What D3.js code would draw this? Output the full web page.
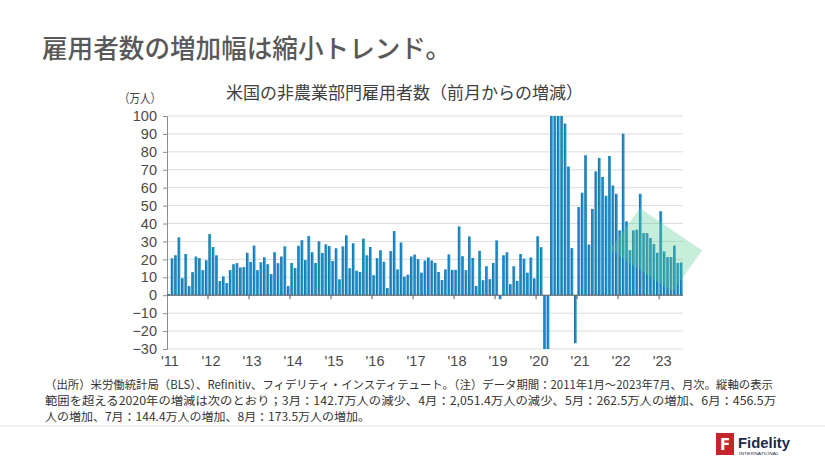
<!DOCTYPE html>
<html><head><meta charset="utf-8">
<script src="https://cdn.jsdelivr.net/npm/d3@7"></script>
<style>
html,body{margin:0;padding:0;background:#fff;}
svg{display:block;}
</style></head>
<body>
<svg id="chart" width="825" height="464"></svg>
<script>
// ---- data ----
const title = "雇用者数の増加幅は縮小トレンド。";
const subtitle = "米国の非農業部門雇用者数（前月からの増減）";
const unitLabel = "（万人）";
const yearLabels = ["'11","'12","'13","'14","'15","'16","'17","'18","'19","'20","'21","'22","'23"];
const yTicks = [-30,-20,-10,0,10,20,30,40,50,60,70,80,90,100];
const v2011 = [0.7,20.6,22.3,32.3,9.5,23.0,5.1,12.9,21.6,20.7,14.0,19.5];
const v2012 = [34.1,26.9,22.3,7.9,10.5,6.8,14.0,17.3,17.9,15.5,15.7,23.7];
const v2013 = [18.6,27.7,14.0,18.4,21.2,17.3,11.8,24.0,17.9,21.6,27.3,5.1];
const v2014 = [18.0,15.2,27.6,30.7,19.6,33.0,24.0,18.0,30.1,23.6,28.4,27.4];
const v2015 = [19.1,26.2,8.9,27.3,33.4,15.1,29.0,13.7,13.0,31.6,22.3,26.9];
const v2016 = [11.2,20.7,25.1,18.7,4.0,24.7,35.8,14.4,29.4,10.4,11.5,21.6];
const v2017 = [22.7,20.1,12.6,19.4,21.1,19.4,18.0,13.0,8.5,14.4,22.8,14.1];
const v2018 = [14.2,38.4,21.8,14.0,32.8,20.8,5.2,24.8,8.4,16.2,9.0,18.0];
const v2019 = [30.6,-2.2,22.3,24.0,6.2,16.2,8.0,23.0,20.4,12.6,21.1,9.4];
const v2020 = [32.9,26.8,-142.7,-2051.4,262.5,456.5,144.4,173.5,95.8,71.8,26.3,-26.8];
const v2021 = [49.2,57.2,78.1,28.3,48.2,69.1,76.6,66.0,55.5,77.7,61.2,56.6];
const v2022 = [36.2,90.1,41.2,25.1,36.2,36.6,56.6,34.7,34.7,31.9,28.6,23.7];
const v2023 = [46.9,24.4,21.3,21.3,27.7,18.0,18.3];
const yearValues = [v2011,v2012,v2013,v2014,v2015,v2016,v2017,v2018,v2019,v2020,v2021,v2022,v2023];
const footnotes = [
  "（出所）米労働統計局（BLS）、Refinitiv、フィデリティ・インスティテュート。（注）データ期間：2011年1月～2023年7月、月次。縦軸の表示",
  "範囲を超える2020年の増減は次のとおり；3月：142.7万人の減少、4月：2,051.4万人の減少、5月：262.5万人の増加、6月：456.5万",
  "人の増加、7月：144.4万人の増加、8月：173.5万人の増加。"
];

// build month table
const months = [];
yearValues.forEach((arr, yi) => arr.forEach((v, mi) => months.push({year: 2011 + yi, month: mi + 1, value: v})));

// ---- layout ----
const svg = d3.select("#chart");
const L = 167, R = 683, T = 116, B = 349;
const y = d3.scaleLinear().domain([-30, 100]).range([B, T]);
const x = d3.scaleBand().domain(d3.range(months.length)).range([L, R]).paddingInner(0.2).paddingOuter(0.1);
const step = x.step();
const slotStart = i => x(i) - step * 0.1;

const cjk = "'Noto Sans CJK JP','Noto Sans',sans-serif";
const num = "'Liberation Sans',Arial,sans-serif";

// title
svg.append("text").attr("x", 42).attr("y", 58).text(title)
  .attr("font-family", cjk).attr("font-size", 25.6).attr("font-weight", 500).attr("fill", "#595959");
svg.append("text").attr("x", 226).attr("y", 99).text(subtitle)
  .attr("font-family", cjk).attr("font-size", 17).attr("fill", "#404040");
svg.append("text").attr("x", 119).attr("y", 103).text(unitLabel)
  .attr("font-family", cjk).attr("font-size", 12.5).attr("fill", "#404040")
  .attr("textLength", 42).attr("lengthAdjust", "spacingAndGlyphs");

// gradient for bars
const defs = svg.append("defs");
const g = defs.append("linearGradient").attr("id", "barg").attr("x1", "0").attr("x2", "1").attr("y1", "0").attr("y2", "0");
g.append("stop").attr("offset", "0%").attr("stop-color", "#0e6ea6");
g.append("stop").attr("offset", "100%").attr("stop-color", "#33a2dc");
defs.append("clipPath").attr("id", "plotclip").append("rect")
  .attr("x", L).attr("y", T).attr("width", R - L + 2).attr("height", B - T);

// gridlines
svg.append("g").selectAll("line").data(yTicks.filter(t => t !== 0)).join("line")
  .attr("x1", L).attr("x2", R).attr("y1", d => y(d)).attr("y2", d => y(d))
  .attr("stroke", "#dcdcdc").attr("stroke-width", 1);

// y axis
const yAxis = d3.axisLeft(y).tickValues(yTicks).tickSize(4).tickPadding(6);
const ya = svg.append("g").attr("transform", `translate(${L},0)`).call(yAxis);
ya.select(".domain").attr("stroke", "#8c8c8c");
ya.selectAll(".tick line").attr("stroke", "#8c8c8c");
ya.selectAll("text").attr("font-family", num).attr("font-size", 14.5).attr("fill", "#4a4a4a");

// bars
svg.append("g").attr("clip-path", "url(#plotclip)").selectAll("rect").data(months).join("rect")
  .attr("x", (d, i) => x(i)).attr("width", x.bandwidth())
  .attr("y", d => y(Math.min(100, Math.max(0, d.value))))
  .attr("height", d => Math.abs(y(Math.max(-30, Math.min(100, d.value))) - y(0)))
  .attr("fill", "url(#barg)");

// green trend arrow (annotation, overlay)
const arrowPts = [[138.4, 48.5], [156.6, 25], [148, 2], [129.5, 25.5]];
svg.append("polygon")
  .attr("points", arrowPts.map(p => [L + p[0] * step, y(p[1])].join(",")).join(" "))
  .attr("fill", "#5fcf95").attr("opacity", 0.35);

// zero axis line
svg.append("line").attr("x1", L).attr("x2", R).attr("y1", y(0)).attr("y2", y(0))
  .attr("stroke", "#5a5a5a").attr("stroke-width", 1);

// year ticks
const yearIdx = yearLabels.map((d, k) => k * 12);
svg.append("g").selectAll("line").data(yearIdx.slice(1)).join("line")
  .attr("x1", d => slotStart(d)).attr("x2", d => slotStart(d))
  .attr("y1", y(0)).attr("y2", y(0) + 4).attr("stroke", "#5a5a5a");
svg.append("g").selectAll("text").data(yearLabels).join("text")
  .attr("x", (d, k) => slotStart(k * 12) + 3).attr("y", 366)
  .attr("text-anchor", "middle").text(d => d)
  .attr("font-family", num).attr("font-size", 14.5).attr("fill", "#4a4a4a");

// footnotes
const fnLen = [728, 731, 325];
svg.append("g").selectAll("text").data(footnotes).join("text")
  .attr("x", 45).attr("y", (d, i) => 389 + i * 16).text(d => d)
  .attr("font-family", cjk).attr("font-size", 11.5).attr("fill", "#333")
  .attr("textLength", (d, i) => fnLen[i]).attr("lengthAdjust", "spacingAndGlyphs");

// separator
svg.append("line").attr("x1", 0).attr("x2", 825).attr("y1", 426).attr("y2", 426)
  .attr("stroke", "#e3e3e3").attr("stroke-width", 1);

// logo
const logo = svg.append("g");
logo.append("rect").attr("x", 716).attr("y", 433).attr("width", 18).attr("height", 22).attr("fill", "#c1272d");
logo.append("text").attr("x", 725).attr("y", 450).attr("text-anchor", "middle").text("F")
  .attr("font-family", "'DejaVu Sans',sans-serif").attr("font-weight", "bold").attr("font-size", 15).attr("fill", "#fff");
logo.append("text").attr("x", 738).attr("y", 448).text("Fidelity")
  .attr("font-family", num).attr("font-weight", "bold").attr("font-size", 15.5).attr("fill", "#1b2b4b")
  .attr("textLength", 52).attr("lengthAdjust", "spacingAndGlyphs");
logo.append("text").attr("x", 739).attr("y", 455).text("INTERNATIONAL")
  .attr("font-family", num).attr("font-size", 3.6).attr("fill", "#1b2b4b")
  .attr("textLength", 40).attr("lengthAdjust", "spacingAndGlyphs");
</script>
</body></html>
